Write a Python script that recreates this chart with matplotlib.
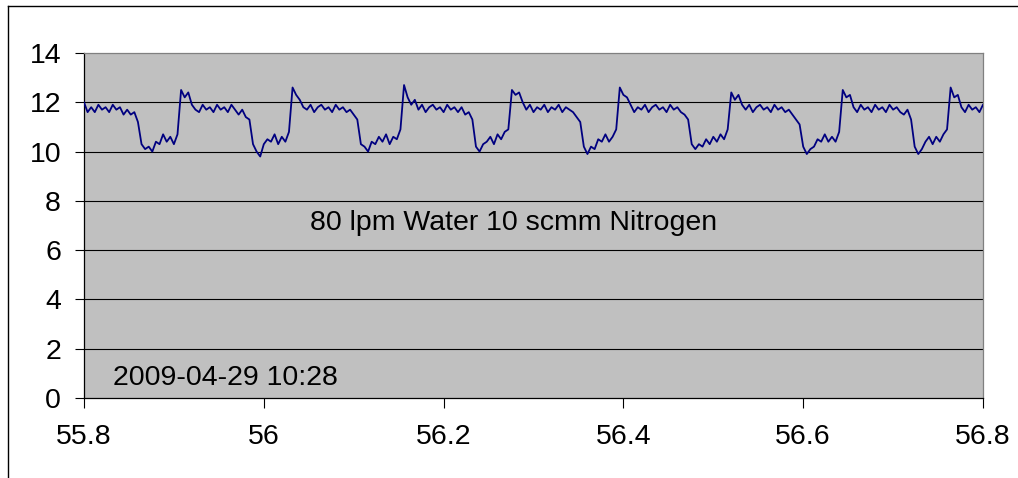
import matplotlib

matplotlib.use("Agg")
import matplotlib.pyplot as plt
from matplotlib.lines import Line2D
import numpy as np

# sampled trace, one reading every 0.004 along x starting at 55.8
X_START = 55.8
X_STEP = 0.004
FLOW = [
    # high 0
    12.0, 11.6, 11.8, 11.6, 11.9, 11.7, 11.8, 11.6, 11.9, 11.7, 11.8, 11.5, 11.7, 11.5, 11.6, 11.2,
    # low 1
    10.3, 10.1, 10.2, 10.0, 10.4, 10.3, 10.7, 10.4, 10.6, 10.3, 10.7,
    # high 1
    12.5, 12.2, 12.4, 11.9, 11.7, 11.6, 11.9, 11.7, 11.8, 11.6, 11.9, 11.7, 11.8, 11.6, 11.9, 11.7, 11.5, 11.7, 11.4, 11.3,
    # low 2
    10.3, 10.0, 9.8, 10.3, 10.5, 10.4, 10.7, 10.3, 10.6, 10.4, 10.8,
    # high 2
    12.6, 12.3, 12.1, 11.8, 11.7, 11.9, 11.6, 11.8, 11.9, 11.7, 11.8, 11.6, 11.9, 11.7, 11.8, 11.6, 11.7, 11.5, 11.3,
    # low 3
    10.3, 10.2, 10.0, 10.4, 10.3, 10.6, 10.4, 10.7, 10.3, 10.6, 10.5, 10.9,
    # high 3
    12.7, 12.2, 11.9, 12.1, 11.7, 11.9, 11.6, 11.8, 11.9, 11.7, 11.8, 11.6, 11.9, 11.7, 11.8, 11.6, 11.8, 11.5, 11.6, 11.3,
    # low 4
    10.2, 10.0, 10.3, 10.4, 10.6, 10.3, 10.7, 10.5, 10.8, 10.9,
    # high 4
    12.5, 12.3, 12.4, 12.0, 11.7, 11.9, 11.6, 11.8, 11.7, 11.9, 11.6, 11.8, 11.7, 11.9, 11.6, 11.8, 11.7, 11.6, 11.4, 11.2,
    # low 5
    10.2, 9.9, 10.2, 10.1, 10.5, 10.4, 10.7, 10.4, 10.6, 10.9,
    # high 5
    12.6, 12.3, 12.2, 11.9, 11.6, 11.8, 11.7, 11.9, 11.6, 11.8, 11.9, 11.7, 11.8, 11.6, 11.9, 11.7, 11.8, 11.6, 11.5, 11.3,
    # low 6
    10.3, 10.1, 10.3, 10.2, 10.5, 10.3, 10.6, 10.4, 10.7, 10.5, 10.9,
    # high 6
    12.4, 12.1, 12.3, 11.9, 11.7, 11.9, 11.6, 11.8, 11.9, 11.7, 11.8, 11.6, 11.9, 11.7, 11.8, 11.6, 11.7, 11.5, 11.3, 11.1,
    # low 7
    10.2, 9.9, 10.1, 10.2, 10.5, 10.4, 10.7, 10.4, 10.6, 10.4, 10.8,
    # high 7
    12.5, 12.2, 12.3, 11.8, 11.6, 11.9, 11.7, 11.8, 11.6, 11.9, 11.7, 11.8, 11.6, 11.9, 11.7, 11.8, 11.6, 11.5, 11.7, 11.3,
    # low 8
    10.2, 9.9, 10.1, 10.4, 10.6, 10.3, 10.6, 10.4, 10.7, 10.9,
    # high 8
    12.6, 12.2, 12.3, 11.8, 11.6, 11.9, 11.7, 11.8, 11.6, 11.9,
]
X_TICKS = [55.8, 56.0, 56.2, 56.4, 56.6, 56.8]
X_LABELS = ["55.8", "56", "56.2", "56.4", "56.6", "56.8"]
Y_TICKS = [0, 2, 4, 6, 8, 10, 12, 14]
NOTE = "80 lpm Water 10 scmm Nitrogen"
STAMP = "2009-04-29 10:28"

plt.rcParams.update(
    {
        "font.family": ["Liberation Sans", "DejaVu Sans"],
        "font.size": 20.5,
    }
)

W, H = 1018, 478
fig = plt.figure(figsize=(W / 100, H / 100), dpi=100, facecolor="white")
ax = fig.add_axes([84 / W, 1 - 398 / H, (983 - 84) / W, (398 - 53) / H])
ax.set_facecolor("#C0C0C0")

x = X_START + X_STEP * np.arange(len(FLOW))
ax.plot(x, FLOW, color="#000080", linewidth=1.3, zorder=3)

ax.set_xlim(55.8, 56.8)
ax.set_ylim(0, 14)
ax.set_xticks(X_TICKS, X_LABELS)
ax.set_yticks(Y_TICKS)
for yv in Y_TICKS[1:-1]:
    ax.axhline(yv, color="black", linewidth=0.8, zorder=1)

ax.spines[["top", "right"]].set_color("#808080")
ax.spines[["left", "bottom"]].set_color("black")
for s in ax.spines.values():
    s.set_linewidth(0.9)
ax.tick_params(axis="x", direction="out", length=7, width=0.8, pad=12, labelsize=20.5)
ax.tick_params(axis="y", direction="out", length=6.5, width=0.8, pad=10, labelsize=20.5)

ax.text(56.051, 7.1, NOTE, ha="left", va="center", fontsize=20.5, zorder=4)
ax.text(55.832, 0.8, STAMP, ha="left", va="center", fontsize=20.5, zorder=4)

# chart-area frame (left and top edges visible in the crop)
fig.add_artist(Line2D([8 / W, 8 / W], [0, 1 - 6 / H], transform=fig.transFigure, color="black", linewidth=1.0))
fig.add_artist(Line2D([8 / W, 1], [1 - 6 / H, 1 - 6 / H], transform=fig.transFigure, color="black", linewidth=1.0))

fig.savefig("out.png", dpi=100)
